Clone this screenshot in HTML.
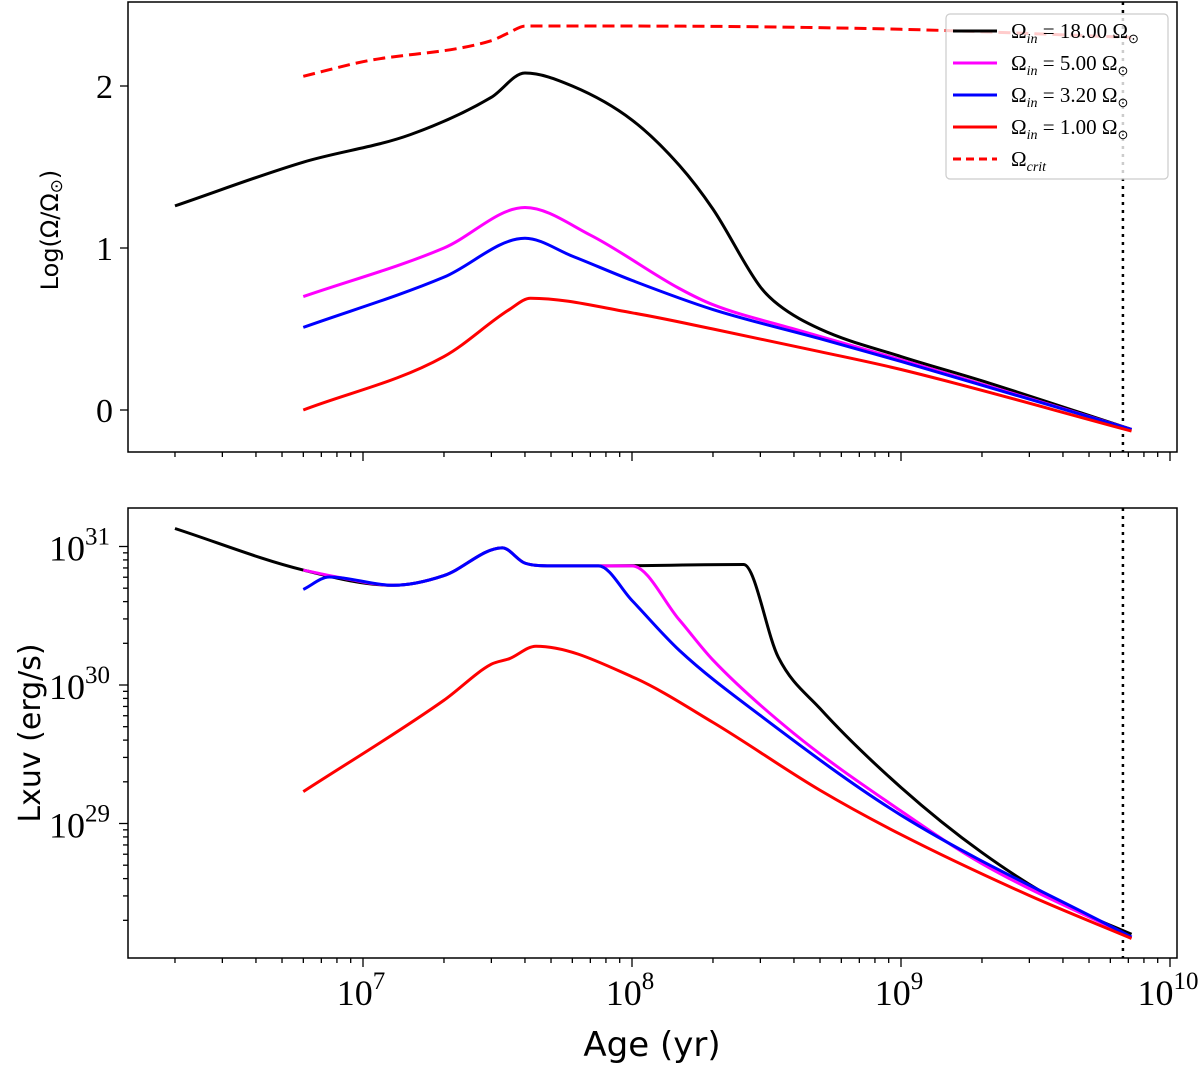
<!DOCTYPE html>
<html><head><meta charset="utf-8"><style>
body{margin:0;background:#fff}
svg{display:block}
text{font-family:"Liberation Serif",serif;fill:#000}
.sans{font-family:"DejaVu Sans","Liberation Sans",sans-serif}
</style></head><body>
<svg id="chart" width="1200" height="1070" viewBox="0 0 1200 1070">
<g id="top"></g>
<g id="bot"></g>
<text x="652" y="1056" font-size="34" text-anchor="middle" class="sans">Age (yr)</text>
<text transform="translate(58,230) rotate(-90)" font-size="24" text-anchor="middle" class="sans">Log(Ω/Ω<tspan font-size="17" dy="4">⊙</tspan><tspan dy="-4">)</tspan></text>
<text transform="translate(40,733) rotate(-90)" font-size="30" text-anchor="middle" class="sans">Lxuv (erg/s)</text>
</svg>
<script>
// ---- data (log10 age, value) ----
const topBlackAge=[6.301,6.778,7.176,7.477,7.602,7.778,8.0,8.176,8.301,8.477,8.544,8.699,9.0,9.301,9.857];
const topBlackVal=[1.26,1.53,1.70,1.93,2.08,2.0,1.79,1.51,1.24,0.76,0.65,0.50,0.33,0.18,-0.12];
const topMagAge=[6.778,7.301,7.602,7.845,8.176,8.301,8.602,9.0,9.857];
const topMagVal=[0.70,1.0,1.25,1.08,0.75,0.65,0.50,0.31,-0.12];
const topBlueAge=[6.778,7.301,7.602,7.778,8.0,8.301,8.699,9.0,9.857];
const topBlueVal=[0.51,0.82,1.06,0.95,0.80,0.62,0.44,0.30,-0.12];
const topRedAge=[6.778,7.301,7.544,7.623,8.0,8.301,8.699,9.0,9.857];
const topRedVal=[0.0,0.33,0.62,0.69,0.60,0.50,0.36,0.25,-0.13];
const critAge=[6.778,7.0,7.477,7.544,7.602,8.0,9.0,9.857];
const critVal=[2.06,2.15,2.28,2.33,2.37,2.37,2.35,2.30];

const botBlackAge=[6.301,6.778,7.114,7.301,7.518,7.602,7.699,7.875,8.415,8.544,8.699,9.0,9.301,9.602,9.857];
const botBlackVal=[31.13,30.83,30.72,30.79,30.99,30.88,30.86,30.86,30.87,30.2,29.83,29.26,28.79,28.42,28.20];
const botMagAge=[6.778,6.903,7.114,7.301,7.518,7.602,7.699,8.0,8.176,8.301,8.602,9.0,9.301,9.857];
const botMagVal=[30.83,30.78,30.72,30.79,30.99,30.88,30.86,30.86,30.47,30.18,29.65,29.09,28.71,28.18];
const botBlueAge=[6.778,6.875,7.114,7.301,7.518,7.602,7.699,7.875,8.0,8.176,8.477,9.0,9.857];
const botBlueVal=[30.69,30.78,30.72,30.79,30.99,30.88,30.86,30.86,30.61,30.25,29.78,29.06,28.18];
const botRedAge=[6.778,7.301,7.477,7.544,7.643,8.0,8.301,8.699,9.0,9.477,9.857];
const botRedVal=[29.23,29.89,30.15,30.19,30.28,30.06,29.73,29.24,28.92,28.48,28.17];

const topTicks=[0,1,2];
const botTicks=[29,30,31];
const xTicks=[7,8,9,10];
const vline=9.825;

const NS="http://www.w3.org/2000/svg";
const X0=128,X1=1177;
const xs=l=>363+269*(l-7);
const yTop=v=>410-162*v;
const yBot=v=>685-138.5*(v-30);
function mk(p,tag,at){const e=document.createElementNS(NS,tag);for(const k in at)e.setAttribute(k,at[k]);p.appendChild(e);return e;}
function line(p,a,b,c,d,w){return mk(p,'line',{x1:a,y1:b,x2:c,y2:d,stroke:'#000','stroke-width':w||1.5});}
// monotone cubic (Fritsch-Carlson), no overshoot
function smooth(P){const n=P.length;if(n<3)return 'M'+P.map(p=>p.join(',')).join(' L');
  const dx=[],s=[];for(let i=0;i<n-1;i++){dx[i]=P[i+1][0]-P[i][0];s[i]=(P[i+1][1]-P[i][1])/dx[i];}
  const m=[s[0]];for(let i=1;i<n-1;i++){m[i]=(s[i-1]*s[i]<=0)?0:(s[i-1]+s[i])/2;}m[n-1]=s[n-2];
  for(let i=0;i<n-1;i++){if(s[i]===0){m[i]=0;m[i+1]=0;continue;}const a=m[i]/s[i],b=m[i+1]/s[i],h=a*a+b*b;if(h>9){const t=3/Math.sqrt(h);m[i]=t*a*s[i];m[i+1]=t*b*s[i];}}
  let d='M'+P[0][0]+','+P[0][1];
  for(let i=0;i<n-1;i++){const h=dx[i]/3;d+=' C'+(P[i][0]+h)+','+(P[i][1]+m[i]*h)+' '+(P[i+1][0]-h)+','+(P[i+1][1]-m[i+1]*h)+' '+P[i+1][0]+','+P[i+1][1];}
  return d;}
function series(p,ages,vals,fy,col,dash){const pts=ages.map((a,i)=>[xs(a),fy(vals[i])]);const e=mk(p,'path',{d:smooth(pts),fill:'none',stroke:col,'stroke-width':3,'stroke-linejoin':'round'});if(dash)e.setAttribute('stroke-dasharray','12,6');return e;}
function xaxis(p,y0,y1,labels){
  mk(p,'rect',{x:X0,y:y0,width:X1-X0,height:y1-y0,fill:'none',stroke:'#000','stroke-width':1.5});
  for(let d=6;d<=9;d++)for(let m=1;m<=9;m++){const l=d+Math.log10(m);const x=xs(l);if(x<X0||x>X1)continue;line(p,x,y1,x,y1+(m==1?9:5),1.3);}
  const x10=xs(10);line(p,x10,y1,x10,y1+9,1.3);
  if(labels)xTicks.forEach(t=>{const tx=mk(p,'text',{x:xs(t)-2,y:y1+47,'font-size':36,'text-anchor':'middle'});tx.textContent='10';const s=mk(tx,'tspan',{dy:-16,'font-size':25});s.textContent=String(t);
    
    });
}
// top
const T=document.getElementById('top');
xaxis(T,2,452,false);
topTicks.forEach(v=>{const y=yTop(v);line(T,X0-8,y,X0,y,1.3);const t=mk(T,'text',{x:113,y:y+12,'font-size':34,'text-anchor':'end'});t.textContent=String(v);
  
  });
const vt=mk(T,'line',{x1:xs(vline),y1:2,x2:xs(vline),y2:452,stroke:'#000','stroke-width':2.5,'stroke-dasharray':'3,5'});


const s1=series(T,critAge,critVal,yTop,'#ff0000',true);


const s2=series(T,topBlackAge,topBlackVal,yTop,'#000');


const s3=series(T,topMagAge,topMagVal,yTop,'#ff00ff');


const s4=series(T,topBlueAge,topBlueVal,yTop,'#0000ff');


const s5=series(T,topRedAge,topRedVal,yTop,'#ff0000');


// legend
const L=mk(T,'g',{});


mk(L,'rect',{x:946,y:14,width:222,height:165,rx:4,fill:'rgba(255,255,255,0.8)',stroke:'#ccc','stroke-width':1.2});
const legCols=['#000','#ff00ff','#0000ff','#ff0000','#ff0000'];
const legVals=['18.00','5.00','3.20','1.00',null];
legCols.forEach((c,i)=>{const y=31+i*32;const ln=mk(L,'line',{x1:953,y1:y,x2:997,y2:y,stroke:c,'stroke-width':3});if(i==4)ln.setAttribute('stroke-dasharray','8,5');
  const t=mk(L,'text',{x:1011,y:y+7,'font-size':21});
  if(legVals[i]){t.innerHTML='Ω<tspan font-style="italic" font-size="14" dy="5">in</tspan><tspan dy="-5"> = '+legVals[i]+' Ω</tspan><tspan font-size="13" dy="5">⊙</tspan>';}
  else t.innerHTML='Ω<tspan font-style="italic" font-size="14" dy="5">crit</tspan>';
  
  });
// bottom
const B=document.getElementById('bot');
xaxis(B,508,958,true);
for(let d=28;d<=31;d++)for(let m=1;m<=9;m++){const y=yBot(d+Math.log10(m));if(y<508||y>958)continue;line(B,X0-(m==1?9:5),y,X0,y,1.3);}
botTicks.forEach(v=>{const y=yBot(v);const t=mk(B,'text',{x:110,y:y+14,'font-size':36,'text-anchor':'end'});t.textContent='10';const s=mk(t,'tspan',{dy:-16,'font-size':25});s.textContent=String(v);
  
  });
const vb=mk(B,'line',{x1:xs(vline),y1:508,x2:xs(vline),y2:958,stroke:'#000','stroke-width':2.5,'stroke-dasharray':'3,5'});


const b1=series(B,botBlackAge,botBlackVal,yBot,'#000');


const b2=series(B,botMagAge,botMagVal,yBot,'#ff00ff');


const b3=series(B,botBlueAge,botBlueVal,yBot,'#0000ff');


const b4=series(B,botRedAge,botRedVal,yBot,'#ff0000');


</script>
</body></html>
